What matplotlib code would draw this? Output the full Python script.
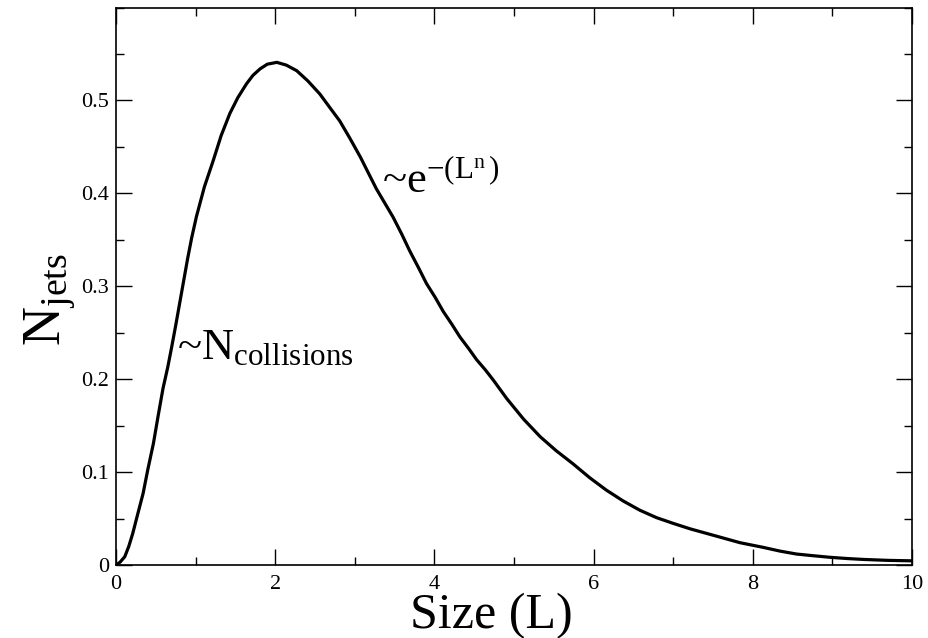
import matplotlib
matplotlib.use("Agg")
import matplotlib.pyplot as plt
from matplotlib.ticker import MultipleLocator

plt.rcParams['font.family'] = ['Liberation Serif', 'DejaVu Serif']
plt.rcParams['mathtext.fontset'] = 'custom'
plt.rcParams['mathtext.rm'] = 'Liberation Serif'
plt.rcParams['mathtext.it'] = 'Liberation Serif:italic'

# curve
size_l = [0.0, 0.05, 0.11, 0.16, 0.21, 0.27, 0.34, 0.40, 0.47, 0.53, 0.59,
          0.65, 0.70, 0.75, 0.80, 0.85, 0.90, 0.95, 1.01, 1.11, 1.22, 1.32,
          1.43, 1.53, 1.64, 1.72, 1.81, 1.90, 2.02, 2.14, 2.27, 2.41, 2.56,
          2.68, 2.81, 2.94, 3.07, 3.17, 3.27, 3.38, 3.48, 3.59, 3.69, 3.80,
          3.90, 4.01, 4.11, 4.22, 4.32, 4.43, 4.53, 4.64, 4.74, 4.91, 5.12,
          5.33, 5.53, 5.74, 5.95, 6.16, 6.37, 6.58, 6.79, 7.00, 7.21, 7.42,
          7.63, 7.84, 8.13, 8.34, 8.55, 8.76, 8.97, 9.18, 9.39, 9.70, 10.0]
n_jets = [0.0, 0.003, 0.009, 0.020, 0.034, 0.054, 0.077, 0.103, 0.131, 0.161,
          0.190, 0.213, 0.235, 0.258, 0.282, 0.306, 0.330, 0.352, 0.375, 0.407,
          0.435, 0.462, 0.486, 0.503, 0.518, 0.527, 0.534, 0.539, 0.541, 0.538,
          0.532, 0.521, 0.507, 0.493, 0.478, 0.459, 0.439, 0.422, 0.405, 0.389,
          0.3745, 0.356, 0.338, 0.320, 0.303, 0.288, 0.273, 0.259, 0.2455,
          0.233, 0.221, 0.210, 0.199, 0.179, 0.157, 0.138, 0.123, 0.109, 0.094,
          0.0806, 0.069, 0.059, 0.051, 0.0448, 0.039, 0.034, 0.029, 0.024,
          0.019, 0.015, 0.0118, 0.010, 0.0083, 0.007, 0.006, 0.005, 0.0045]

fig = plt.figure(figsize=(9.29, 6.38), dpi=100)
ax = fig.add_axes([0.1249, 0.1144, 0.9817 - 0.1249, 0.9882 - 0.1144])

ax.plot(size_l, n_jets, color='black', lw=2.3, solid_joinstyle='round')

ax.set_xlim(0, 10)
ax.set_ylim(0, 0.6)
ax.xaxis.set_major_locator(MultipleLocator(2))
ax.xaxis.set_minor_locator(MultipleLocator(1))
ax.set_yticks([0, 0.1, 0.2, 0.3, 0.4, 0.5])
ax.set_yticklabels(['0', '0.1', '0.2', '0.3', '0.4', '0.5'])
ax.yaxis.set_minor_locator(MultipleLocator(0.05))
ax.tick_params(which='both', direction='in', top=True, right=True, width=1)
ax.tick_params(which='major', length=11.5, labelsize=16)
ax.tick_params(axis='x', which='major', pad=7)
ax.tick_params(axis='y', which='major', pad=5)
ax.tick_params(which='minor', length=5.8)
for sp in ax.spines.values():
    sp.set_linewidth(1.2)

ax.set_xlabel('Size (L)', fontsize=36, va='top')
ax.xaxis.set_label_coords(0.471, -0.05)
ax.set_ylabel('N$_{\\mathrm{jets}}$', fontsize=39)
ax.yaxis.set_label_coords(-0.048, 0.476)

ax.text(0.76, 0.222, '~N$_{\\mathrm{collisions}}$', fontsize=32,
        ha='left', va='baseline')
ax.text(3.34, 0.401, '~e$^{\\mathrm{-(L}^{\\mathrm{n}}\\,\\mathrm{)}}$', fontsize=32,
        ha='left', va='baseline')

fig.savefig('out.png', dpi=100)
